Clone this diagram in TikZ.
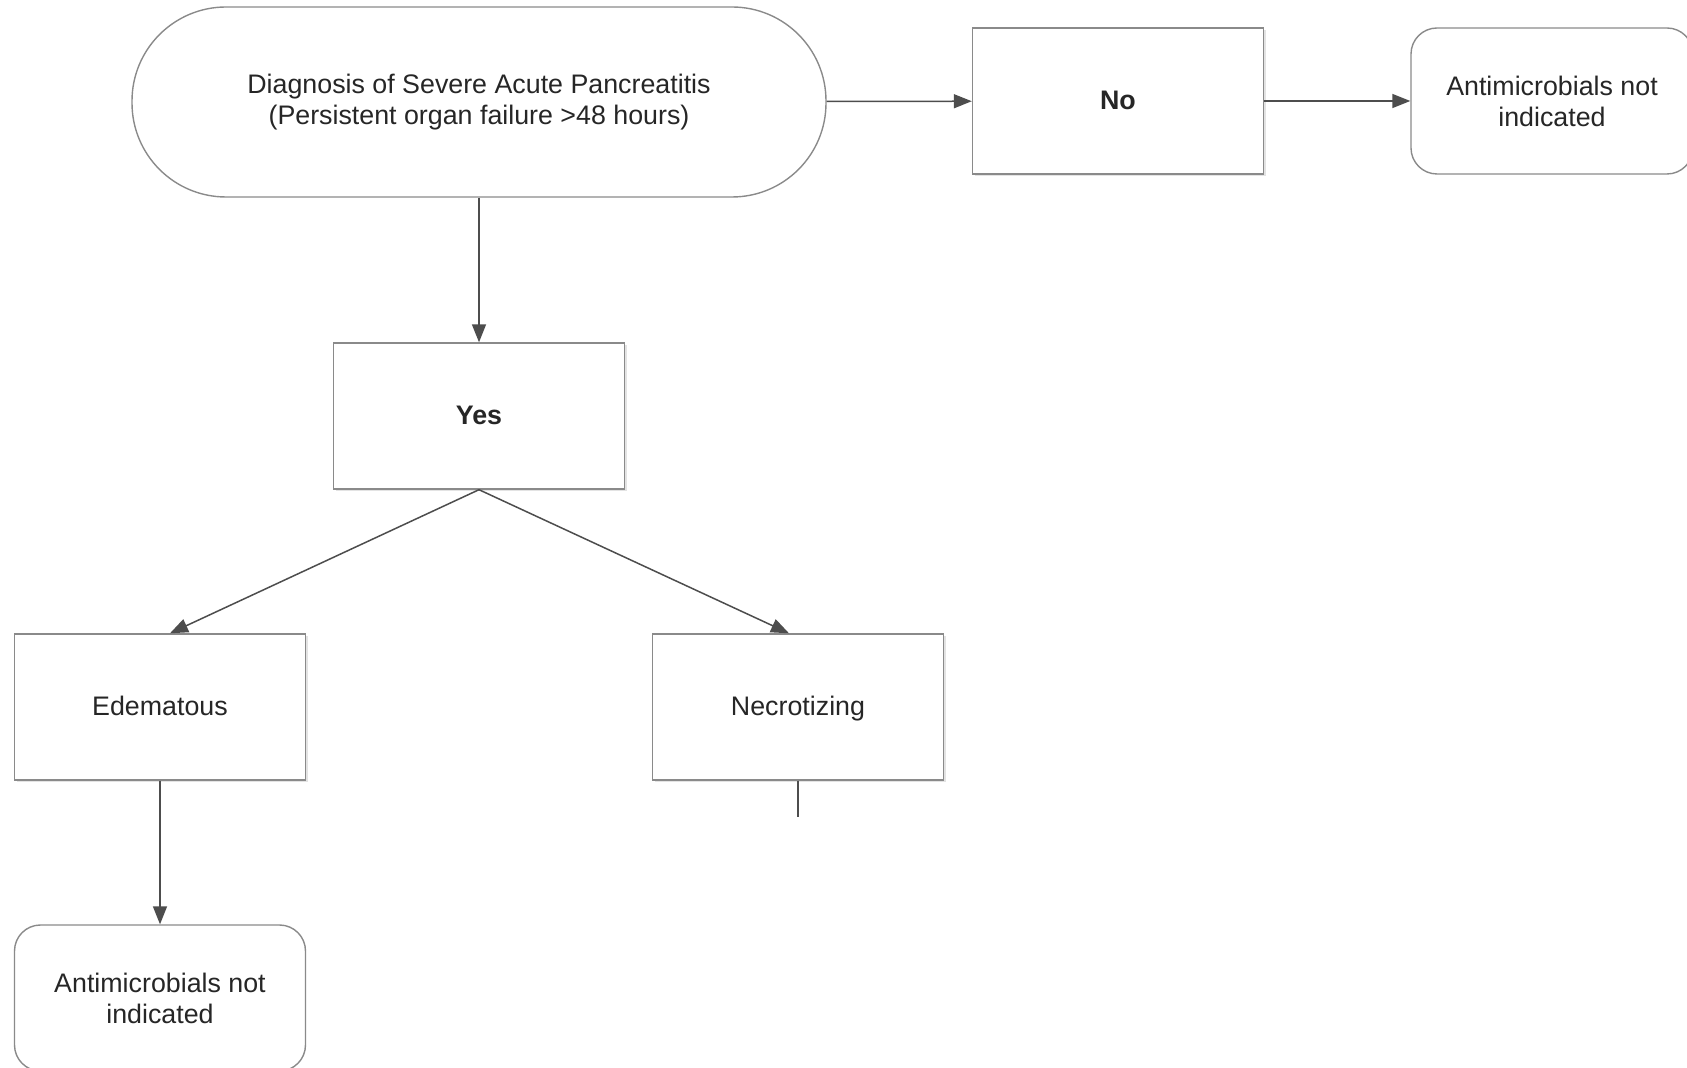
\documentclass[tikz,border=0pt]{standalone}
\usepackage{fontspec}
\setmainfont{Liberation Sans}
\usepackage{tikz}
\usetikzlibrary{
  arrows.meta,
  positioning,
  calc,
  shadows
}
\definecolor{linha}{HTML}{4D4D4D}
\definecolor{borda}{HTML}{8A8A8A}

\begin{document}
\begin{tikzpicture}[
      x=0.5pt, y=-0.5pt,
      >={Triangle[length=9pt,width=7pt]},
      every node/.style={font=\fontsize{13.4}{15.5}\selectfont, text=black!85},
      inicio/.style={draw=borda, line width=0.7pt, rounded corners=47pt, minimum width=347pt, minimum height=95pt, align=center},
      etapa/.style={draw=borda, fill=white, line width=0.7pt, minimum width=145.5pt, minimum height=73pt, align=center, text height=1.04em, text depth=0.21em, drop shadow={shadow xshift=1.2pt, shadow yshift=-1.2pt, opacity=0.22}},
      resultado/.style={draw=borda, line width=0.7pt, rounded corners=13pt, minimum width=145.5pt, minimum height=73pt, align=center},
      seta/.style={->, line width=0.75pt, linha}
  ]
      \useasboundingbox (0,0) rectangle (1687,1068);

      % Diagnostico e decisao
      \node[inicio] (diag) at (479, 102) {Diagnosis of Severe Acute Pancreatitis\\(Persistent organ failure >48 hours)};
      \node[etapa] (nao) at (1118, 101) {\textbf{No}};
      \node[resultado, minimum width=141pt] (naoind) at (1552, 101) {Antimicrobials not\\indicated};
      \node[etapa] (sim) at (479, 416) {\textbf{Yes}};

      % Tipos
      \node[etapa] (edem) at (160, 707) {Edematous};
      \node[etapa] (necro) at (798, 707) {Necrotizing};
      \node[resultado] (naoindb) at (160, 998) {Antimicrobials not\\indicated};
      \coordinate (fim) at (798, 817);

      % Setas de conexao
      \draw[seta] (diag) -- (nao);
      \draw[seta] (nao) -- (naoind);
      \draw[seta] (diag) -- (sim);
      \draw[seta] (sim.south) -- ([xshift=5pt]edem.north);
      \draw[seta] (sim.south) -- ([xshift=-4.5pt]necro.north);
      \draw[seta] (edem) -- (naoindb);
      \draw[line width=0.75pt, linha] (necro.south) -- (fim);

  \end{tikzpicture}
\end{document}
